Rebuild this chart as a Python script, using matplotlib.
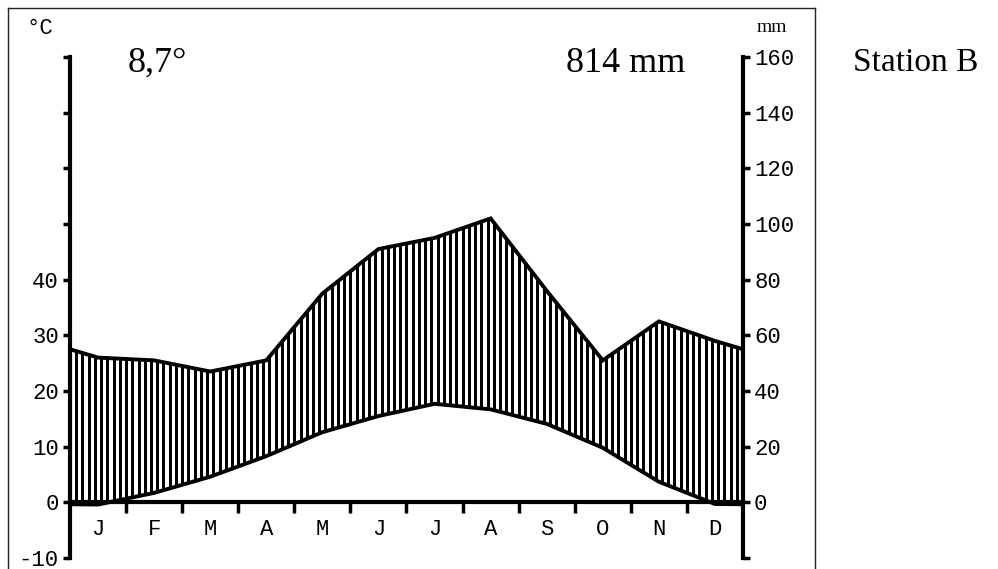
import matplotlib.pyplot as plt
import numpy as np
from matplotlib.lines import Line2D

# climate data, station B
months = ['J', 'F', 'M', 'A', 'M', 'J', 'J', 'A', 'S', 'O', 'N', 'D']
temp = [-0.4, 1.7, 4.6, 8.3, 12.6, 15.5, 17.7, 16.7, 14.1, 9.8, 3.7, -0.3]   # deg C
prec = [52, 51, 47, 51, 75, 91, 95, 102, 76, 51, 65, 58]                     # mm
mean_temp = '8,7°'
total_prec = '814 mm'
station = 'Station B'

W, H = 998, 569
fig = plt.figure(figsize=(W / 100, H / 100), dpi=100)
ax = fig.add_axes([70 / W, 11 / H, 673 / W, 501 / H])

mono = 'Liberation Mono'
serif = 'Liberation Serif'

# curves run from edge to edge, edge value = mean of Dec and Jan
xs = np.concatenate([[0], np.arange(12) + 0.5, [12]])
t = np.array(temp)
p = np.array(prec) / 2.0   # 20 mm = 10 deg C
t_full = np.concatenate([[(t[0] + t[-1]) / 2], t, [(t[0] + t[-1]) / 2]])
p_full = np.concatenate([[(p[0] + p[-1]) / 2], p, [(p[0] + p[-1]) / 2]])

# vertical hatching (humid period)
hx = np.arange(0, 12 + 1e-9, 1 / 9)
ht = np.interp(hx, xs, t_full)
hp = np.interp(hx, xs, p_full)
ax.vlines(hx, ht, hp, color='black', lw=1.8, antialiased=False)

ax.plot(xs, p_full, color='black', lw=2.8, solid_joinstyle='miter')
ax.plot(xs, t_full, color='black', lw=2.8, solid_joinstyle='miter')

ax.set_xlim(0, 12)
ax.set_ylim(-10, 80)

for s in ['top', 'right']:
    ax.spines[s].set_visible(False)
ax.spines['left'].set_linewidth(3)
ax.spines['bottom'].set_linewidth(3)
ax.spines['bottom'].set_position(('data', 0))

ax.set_xticks(np.arange(1, 12))
ax.set_xticklabels([])
ax.tick_params(axis='x', which='major', direction='out', length=8, width=2.5)
ax.set_xticks(np.arange(12) + 0.5, minor=True)
ax.set_xticklabels(months, minor=True, fontfamily=mono, fontsize=16)
ax.tick_params(axis='x', which='minor', length=0, pad=12)

yt = np.arange(-10, 81, 10)
ax.set_yticks(yt)
ax.set_yticklabels([str(v) if v <= 40 else '' for v in yt], fontfamily=mono, fontsize=16)
ax.tick_params(axis='y', direction='out', length=5, width=2.5, pad=3)

ax2 = ax.twinx()
ax2.set_ylim(-20, 160)
for s in ['top', 'left', 'bottom']:
    ax2.spines[s].set_visible(False)
ax2.spines['right'].set_linewidth(3)
yt2 = np.arange(-20, 161, 20)
ax2.set_yticks(yt2)
ax2.set_yticklabels([str(v) if v >= 0 else '' for v in yt2], fontfamily=mono, fontsize=16)
ax2.tick_params(axis='y', direction='out', length=5, width=2.5, pad=3)

# texts
def px(x, y):
    return x / W, 1 - y / H

fig.text(*px(128, 63), mean_temp, fontfamily=serif, fontsize=26, va='center', ha='left')
fig.text(*px(685, 63), total_prec, fontfamily=serif, fontsize=26, va='center', ha='right')
fig.text(*px(853, 63), station, fontfamily=serif, fontsize=24, va='center', ha='left')
fig.text(*px(27, 28), '°C', fontfamily=mono, fontsize=16, va='center', ha='left')
fig.text(*px(772, 27), 'mm', fontfamily=serif, fontsize=14, va='center', ha='center')

# outer frame, open at the bottom
frame = dict(color='#222222', lw=1.0)
fig.add_artist(Line2D([8 / W, 8 / W], [-0.05, 1 - 8 / H], **frame))
fig.add_artist(Line2D([8 / W, 815 / W], [1 - 8 / H, 1 - 8 / H], **frame))
fig.add_artist(Line2D([815 / W, 815 / W], [-0.05, 1 - 8 / H], **frame))

fig.savefig('out.png', dpi=100)
